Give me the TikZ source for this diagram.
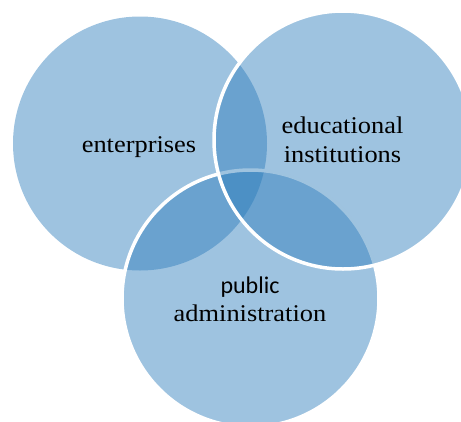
\documentclass[tikz,border=0pt]{standalone}
\usepackage{fontspec}
\setmainfont{Liberation Serif}[FakeStretch=1.1]
\setsansfont{Carlito}
\definecolor{setblue}{RGB}{41,122,186}
\begin{document}
\begin{tikzpicture}[x=1pt,y=-1pt,
  venn/.style={fill=setblue, fill opacity=0.45},
  rim/.style={draw=white, line width=3.5pt},
  lbl/.style={align=center, anchor=base, inner sep=0pt, text=black,
              font=\fontsize{24}{29}\selectfont}]
\useasboundingbox (0,0) rectangle (461,421);
\clip (0,0) rectangle (461,421);
% the three overlapping sets
\path[venn] (140,143.5) circle[radius=127];
\path[venn, rim] (250.5,298.5) circle[radius=128.5];
\path[venn, rim] (343,140) circle[radius=129];
% labels (base anchor sits on the last line)
\node[lbl] (ent) at (139,152) {enterprises};
\node[lbl] (edu) at (342.5,162) {educational\\institutions};
\node[lbl, font=\fontsize{24}{28}\selectfont] (pub) at (250,321) {{\sffamily public}\\administration};
\end{tikzpicture}
\end{document}
